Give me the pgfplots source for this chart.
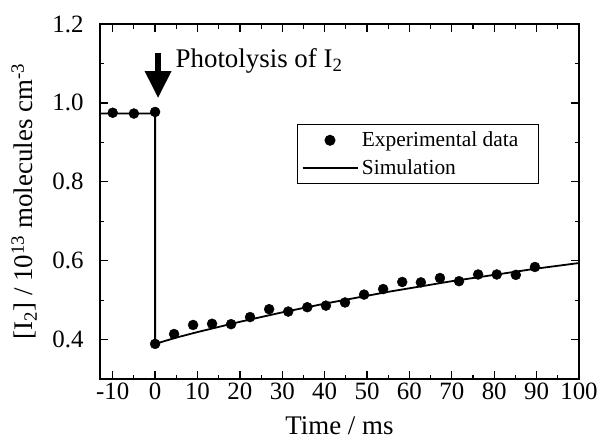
\documentclass[border=0pt]{standalone}
\usepackage{fontspec}
\setmainfont{Liberation Serif}
\usepackage{pgfplots}
\pgfplotsset{compat=1.18}
\usetikzlibrary{arrows.meta}
\pgfplotsset{
  dotlegend/.style={legend image code/.code={\draw[##1] plot coordinates {(27.5bp,0bp)};}},
  linelegend/.style={legend image code/.code={\draw[##1] (0bp,0bp) -- (55bp,0bp);}},
}
\begin{document}
\begin{tikzpicture}
\begin{axis}[
  scale only axis, width=479bp, height=355bp,
  xmin=-13, xmax=100, ymin=0.3, ymax=1.2,
  xtick={-10,0,...,100}, minor x tick num=1,
  ytick={0.4,0.6,0.8,1.0,1.2}, minor y tick num=1,
  yticklabel style={xshift=-13bp, /pgf/number format/fixed, /pgf/number format/fixed zerofill, /pgf/number format/precision=1},
  /pgf/number format/assume math mode=true,
  tick label style={font=\fontsize{25}{30}\selectfont},
  label style={font=\fontsize{27}{32}\selectfont},
  xlabel={Time / ms},
  ylabel={[I\textsubscript{2}] / 10\textsuperscript{13} molecules cm\textsuperscript{-3}},
  xlabel style={at={(axis description cs:0.5,-0.155)}, anchor=base},
  ylabel style={at={(axis description cs:-0.14,0.5)}, anchor=base},
  axis line style={line width=1.6bp},
  major tick style={line width=1.3bp, black}, minor tick style={line width=1.1bp, black},
  major tick length=8bp, minor tick length=4.5bp,
  legend style={at={(rel axis cs:0.4115,0.718)}, anchor=north west, draw=black, line width=1bp,
    font=\fontsize{21.5}{25}\selectfont, inner xsep=4bp, inner ysep=2bp,
    nodes={inner xsep=3.5bp, inner ysep=5.5bp}, cells={anchor=west}},
]
\addplot[only marks, mark=*, mark size=5bp, black, dotlegend]
  coordinates {
  (-10,0.975) (-5,0.973) (0,0.977) (0,0.389) (4.48,0.414) (8.96,0.437) (13.44,0.440)
  (17.92,0.439) (22.4,0.457) (26.9,0.477) (31.4,0.471) (35.9,0.482) (40.3,0.486)
  (44.8,0.494) (49.3,0.514) (53.8,0.528) (58.3,0.546) (62.7,0.545) (67.2,0.556)
  (71.7,0.548) (76.2,0.565) (80.6,0.565) (85.1,0.564) (89.6,0.584)};
\addlegendentry{Experimental data\hspace*{13bp}}
\addplot[black, line width=1.8bp, no marks, linelegend]
  coordinates {
  (-13,0.973) (0,0.973) (0,0.389) (5,0.405) (10,0.419) (15,0.432) (20,0.445)
  (25,0.457) (30,0.469) (35,0.480) (40,0.491) (45,0.501) (50,0.511) (55,0.521)
  (60,0.530) (65,0.539) (70,0.548) (75,0.556) (80,0.564) (85,0.572) (90,0.580)
  (95,0.587) (100,0.594)};
\addlegendentry{Simulation}
\draw[-{Triangle[width=25bp,length=27bp]}, line width=6bp] (axis cs:0.7,1.127) -- (axis cs:0.7,1.012);
\node[anchor=base west, font=\fontsize{27}{32}\selectfont, inner sep=0pt] at (axis cs:4.8,1.089) {Photolysis of I\textsubscript{2}};
\end{axis}
\path (current axis.south west) ++(-100bp,-60bp) rectangle ++(602bp,439bp);
\end{tikzpicture}
\end{document}
